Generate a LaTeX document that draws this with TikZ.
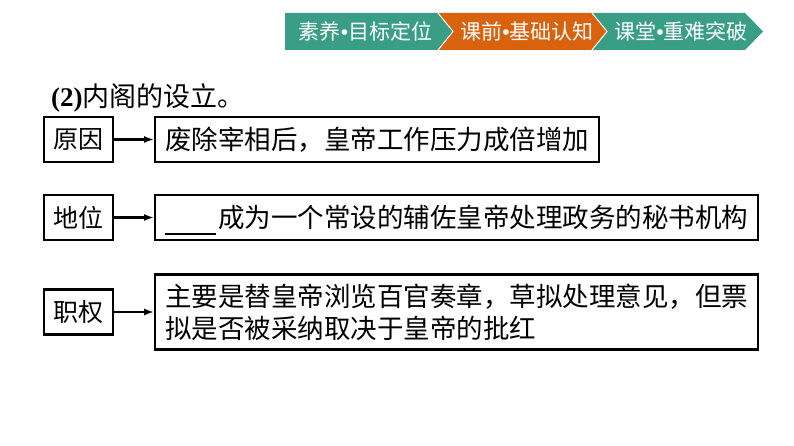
\documentclass[tikz,border=0pt]{standalone}
\usepackage{fontspec}
\setmainfont{Noto Sans CJK SC}
\newfontfamily\latinfont{Liberation Serif}
\newfontfamily\dotfont{Liberation Sans}
\usetikzlibrary{positioning}
\usetikzlibrary{arrows.meta}

\definecolor{tabgreen}{HTML}{3A9E87}
\definecolor{taborange}{HTML}{D9620F}

\newcommand{\tabdot}{{\dotfont •}}

\begin{document}
\begin{tikzpicture}[x=1pt, y=-1pt, >={Latex[length=10pt,width=7pt]},
    label/.style={draw, line width=2.2pt, minimum width=69pt, minimum height=45pt, inner sep=0pt, font=\fontsize{25}{30}\selectfont},
    textbox/.style={draw, line width=2.2pt, inner xsep=10pt, inner ysep=9pt, minimum height=45pt, align=left, font=\fontsize{26.5}{32}\selectfont},
    tab/.style={text=white, inner sep=0pt, font=\fontsize{21}{24}\selectfont}]

\useasboundingbox (0,0) rectangle (794,446);

\def \tabtop{13}
\def \tabbot{50}
\def \tabmid{31.5}

% banner
\fill[tabgreen] (285,\tabtop) -- (438,\tabtop) -- (453,\tabmid) -- (438,\tabbot) -- (285,\tabbot) -- cycle;
\fill[taborange] (438,\tabtop) -- (592,\tabtop) -- (607,\tabmid) -- (592,\tabbot) -- (438,\tabbot) -- (453,\tabmid) -- cycle;
\fill[tabgreen] (592,\tabtop) -- (745,\tabtop) -- (763,\tabmid) -- (745,\tabbot) -- (592,\tabbot) -- (607,\tabmid) -- cycle;
\draw[white, line width=1pt] (438,\tabtop) -- (453,\tabmid) -- (438,\tabbot)
    (592,\tabtop) -- (607,\tabmid) -- (592,\tabbot);

\node[tab] (tab1) at (365.5,\tabmid) {素养\tabdot 目标定位};
\node[tab] (tab2) at (527,\tabmid) {课前\tabdot 基础认知};
\node[tab] (tab3) at (681,\tabmid) {课堂\tabdot 重难突破};

\node[anchor=base west, inner sep=0pt, font=\fontsize{27}{32}\selectfont] (title) at (51,107) {{\latinfont\bfseries (2)}内阁的设立。};

\node[label] (cause) at (78.5,139.5) {原因};
\node[label] (status) at (78.5,217.5) {地位};
\node[label] (power) at (78.5,312) {职权};

\node[textbox, right=40pt of cause] (causetxt) {废除宰相后，皇帝工作压力成倍增加};
\node[textbox, right=40pt of status] (statustxt) {\raisebox{-7pt}[0pt][0pt]{\rule{51pt}{2pt}}\hspace{2pt}成为一个常设的辅佐皇帝处理政务的秘书机构};
\node[textbox, right=40pt of power] (powertxt) {主要是替皇帝浏览百官奏章，草拟处理意见，但票\\拟是否被采纳取决于皇帝的批红};

\draw[->, line width=2.2pt] (cause) -- (causetxt);
\draw[->, line width=2.2pt] (status) -- (statustxt);
\draw[->, line width=2.2pt] (power) -- (powertxt);

\end{tikzpicture}
\end{document}
